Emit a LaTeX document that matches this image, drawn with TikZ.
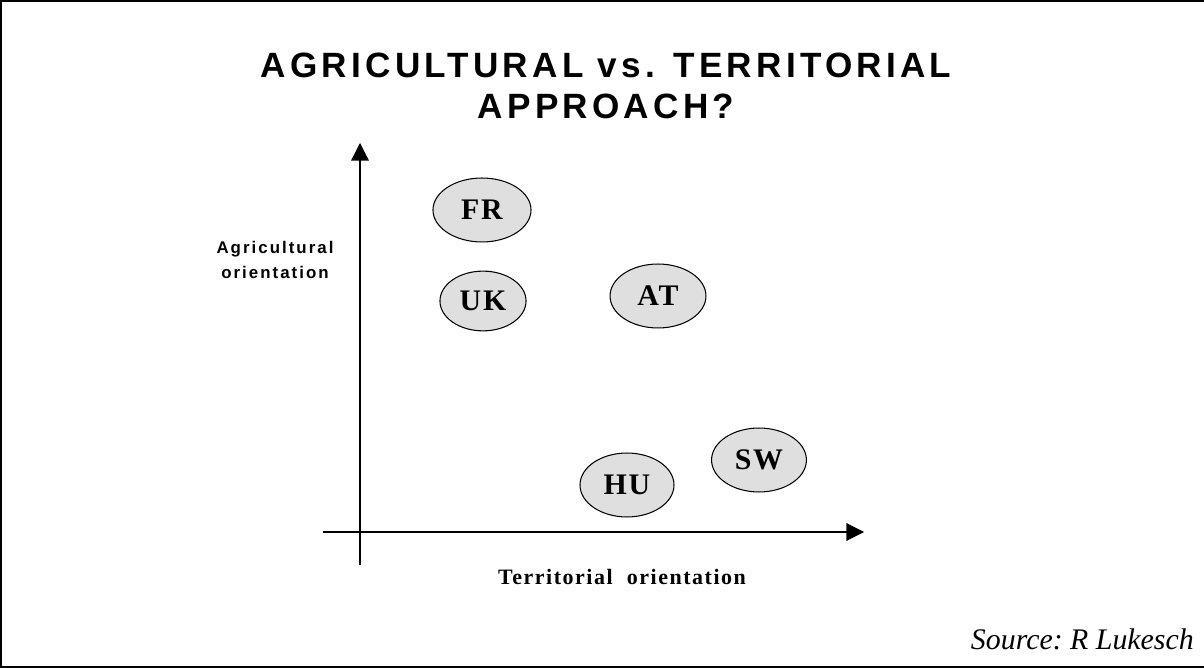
\documentclass[tikz,border=0pt]{standalone}
\usepackage{fontspec}
\setmainfont{Liberation Serif}
\newfontfamily\titlefont[LetterSpace=12]{Liberation Sans}
\newfontfamily\axisfont[LetterSpace=12]{Liberation Sans}
\newfontfamily\cntfont[LetterSpace=6]{Liberation Serif}
\newfontfamily\xfont[LetterSpace=7]{Liberation Serif}
\usepackage{tikz}
\usetikzlibrary{arrows.meta, shapes.geometric}

\begin{document}
\begin{tikzpicture}[x=0.02cm, y=-0.02cm,
    country/.style = {draw, ellipse, fill=gray!25, line width=0.6pt, inner sep=0pt, font=\cntfont\bfseries\fontsize{17}{19}\selectfont},
    axis/.style = {line width=0.7pt, -{Triangle[length=10pt, width=10pt]}}]
    \useasboundingbox (0,0) rectangle (1204,668);
    \draw[line width=0.7pt] (1210,1) -- (1,1) -- (1,667) -- (1210,667);
    % title
    \node[font=\titlefont\bfseries\fontsize{20}{23}\selectfont, align=center] (title) at (606,86) {AGRICULTURAL vs. TERRITORIAL\\APPROACH?};
    % axes
    \coordinate (ybot) at (360,565);
    \coordinate (ytop) at (360,143);
    \coordinate (xleft) at (323,532);
    \coordinate (xright) at (864,532);
    \draw[axis] (ybot) -- (ytop);
    \draw[axis] (xleft) -- (xright);
    \node[font=\axisfont\bfseries\fontsize{9.6}{14}\selectfont, align=center] (ylab) at (275,260) {Agricultural\\orientation};
    \node[font=\xfont\bfseries\fontsize{12.5}{14}\selectfont] (xlab) at (622,577) {Territorial\ \ orientation};
    % countries
    \node[country, minimum width=55.8pt, minimum height=36.4pt] (fr) at (482,210) {FR};
    \node[country, minimum width=49pt, minimum height=34pt] (uk) at (483,301) {UK};
    \node[country, minimum width=54.6pt, minimum height=36.4pt] (at) at (658,296) {AT};
    \node[country, minimum width=53.5pt, minimum height=36.4pt] (hu) at (627,485) {HU};
    \node[country, minimum width=54pt, minimum height=36.4pt] (sw) at (759,460) {SW};
    % source
    \node[font=\itshape\fontsize{17}{20}\selectfont, anchor=base east] (src) at (1200,650) {Source:\ R Lukesch};
\end{tikzpicture}
\end{document}
